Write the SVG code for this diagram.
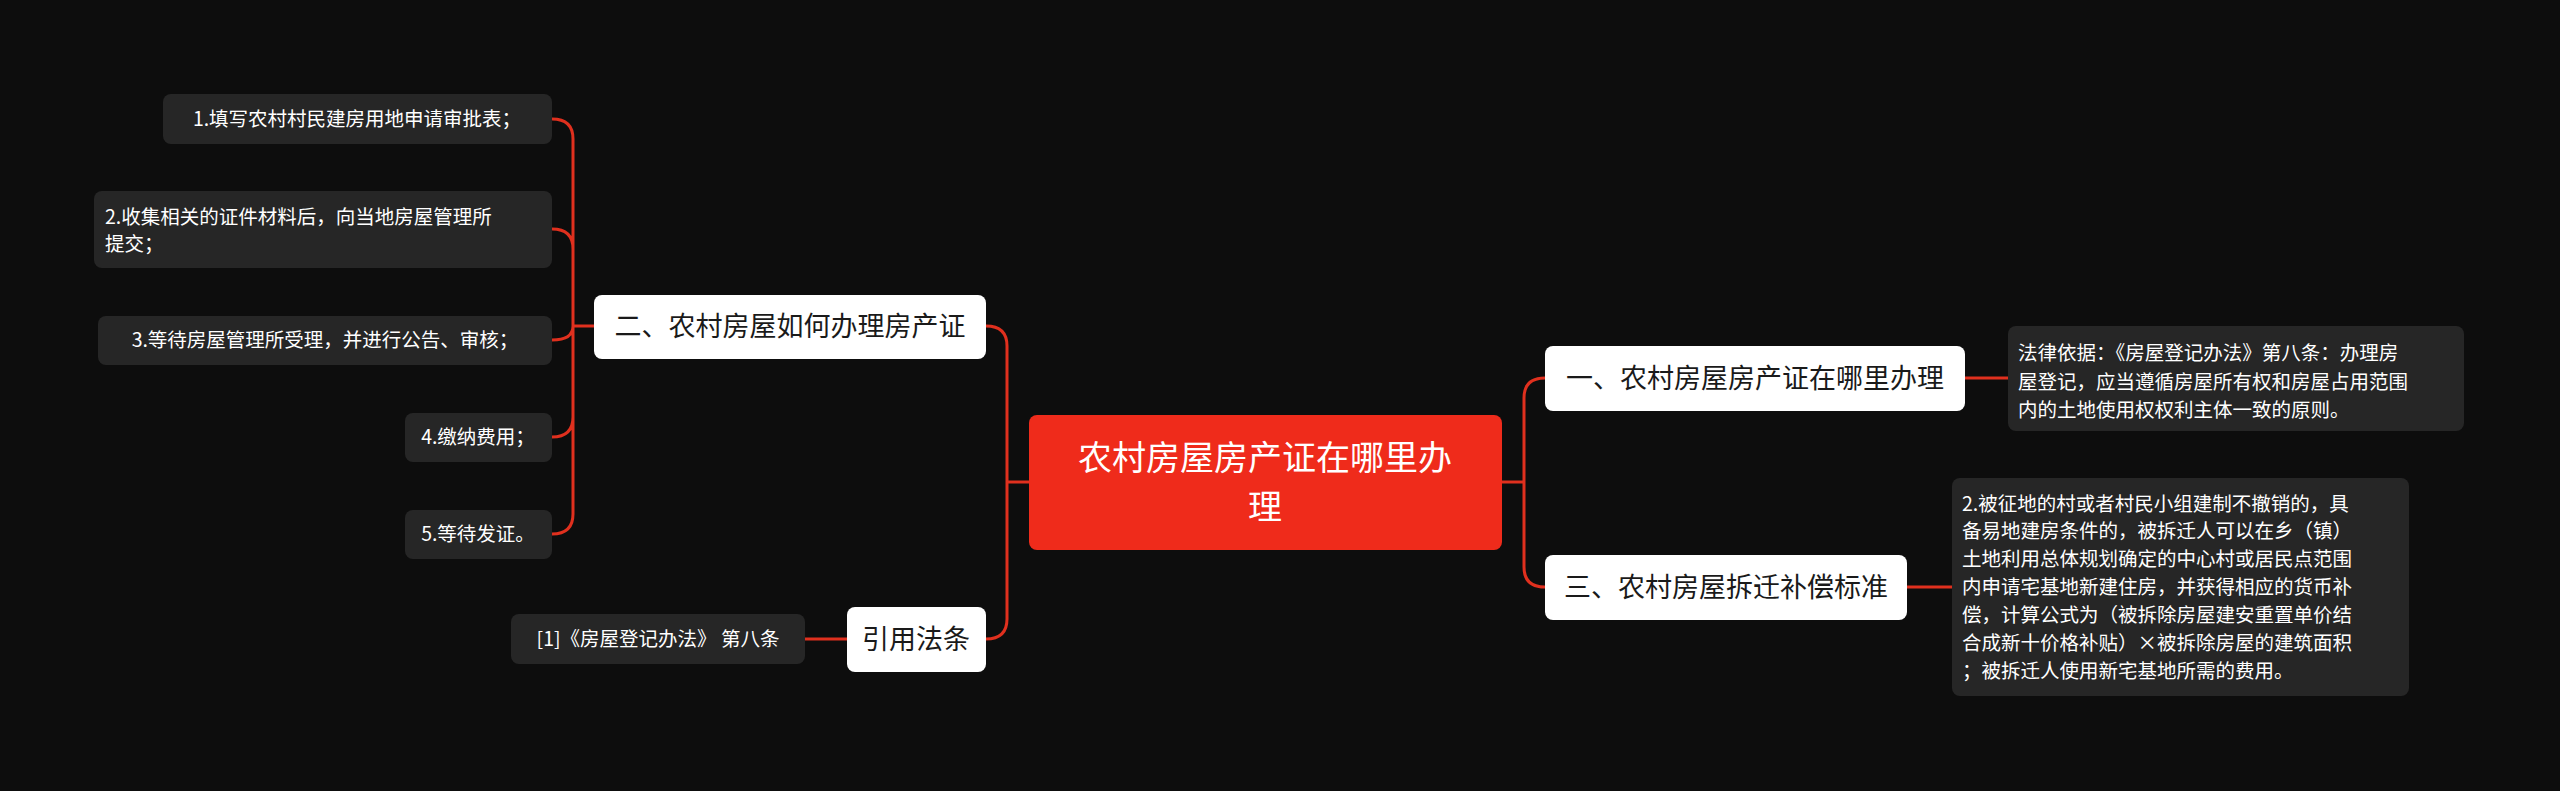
<svg xmlns="http://www.w3.org/2000/svg" width="2560" height="791" viewBox="0 0 2560 791">
<style>
text{font-family:"Noto Sans CJK SC","Noto Sans",sans-serif}
.leaf{fill:#262626}
.lt{fill:#ffffff;font-size:19.5px}
.main{fill:#ffffff}
.mt{fill:#1a1a1a;font-size:27px}
.ln{fill:none;stroke:#e0301e;stroke-width:3}
</style>
<rect width="2560" height="791" fill="#0d0d0d"/>
<g id="connectors">
<path class="ln" d="M1029 482 H1007 M986 326 Q1007 326 1007 346 V619 Q1007 639 986 639 M1007 482 H1007"/>
<path class="ln" d="M1502 482 H1524 M1545 378 Q1524 378 1524 398 V567 Q1524 587 1545 587"/>
<path class="ln" d="M1965 378 H2008 M1907 587 H1952"/>
<path class="ln" d="M847 639 H805"/>
<path class="ln" d="M594 326 H573 M552 119 Q573 119 573 139 V514 Q573 534 552 534 M552 229 Q573 229 573 249 M552 340 Q573 340 573 326 Q573 340 552 340 M552 437 Q573 437 573 417"/>
</g>
<g id="center"><rect x="1029" y="415" width="473" height="135" rx="8" fill="#ef2b1b"/>
<text x="1265" y="470" font-size="34" fill="#fff" text-anchor="middle">农村房屋房产证在哪里办</text>
<text x="1265" y="519" font-size="34" fill="#fff" text-anchor="middle">理</text></g>
<g id="n2"><rect class="main" x="594" y="295" width="392" height="64" rx="8"/><text class="mt" x="790" y="336" text-anchor="middle">二、农村房屋如何办理房产证</text></g>
<g id="ncite"><rect class="main" x="847" y="607" width="139" height="65" rx="8"/><text class="mt" x="916" y="649" text-anchor="middle">引用法条</text></g>
<g id="n1"><rect class="main" x="1545" y="346" width="420" height="65" rx="8"/><text class="mt" x="1755" y="388" text-anchor="middle">一、农村房屋房产证在哪里办理</text></g>
<g id="n3"><rect class="main" x="1545" y="555" width="362" height="65" rx="8"/><text class="mt" x="1726" y="597" text-anchor="middle">三、农村房屋拆迁补偿标准</text></g>
<g id="l1"><rect class="leaf" x="163" y="94" width="389" height="50" rx="8"/><text class="lt" x="357" y="126" text-anchor="middle">1.填写农村村民建房用地申请审批表；</text></g>
<g id="l2"><rect class="leaf" x="94" y="191" width="458" height="77" rx="8"/><text class="lt" x="105" y="224">2.收集相关的证件材料后，向当地房屋管理所</text><text class="lt" x="105" y="251">提交；</text></g>
<g id="l3"><rect class="leaf" x="98" y="316" width="454" height="49" rx="8"/><text class="lt" x="325" y="347" text-anchor="middle">3.等待房屋管理所受理，并进行公告、审核；</text></g>
<g id="l4"><rect class="leaf" x="405" y="413" width="147" height="49" rx="8"/><text class="lt" x="478" y="444" text-anchor="middle">4.缴纳费用；</text></g>
<g id="l5"><rect class="leaf" x="405" y="510" width="147" height="49" rx="8"/><text class="lt" x="478" y="541" text-anchor="middle">5.等待发证。</text></g>
<g id="lcite"><rect class="leaf" x="511" y="614" width="294" height="50" rx="8"/><text class="lt" x="658" y="646" text-anchor="middle">[1]《房屋登记办法》 第八条</text></g>
<g id="lr1"><rect class="leaf" x="2008" y="326" width="456" height="105" rx="8"/>
<text class="lt" x="2018" y="360">法律依据：《房屋登记办法》第八条：办理房</text>
<text class="lt" x="2018" y="389">屋登记，应当遵循房屋所有权和房屋占用范围</text>
<text class="lt" x="2018" y="417">内的土地使用权权利主体一致的原则。</text></g>
<g id="lr3"><rect class="leaf" x="1952" y="478" width="457" height="218" rx="8"/>
<text class="lt" x="1962" y="511">2.被征地的村或者村民小组建制不撤销的，具</text>
<text class="lt" x="1962" y="538">备易地建房条件的，被拆迁人可以在乡（镇）</text>
<text class="lt" x="1962" y="566">土地利用总体规划确定的中心村或居民点范围</text>
<text class="lt" x="1962" y="594">内申请宅基地新建住房，并获得相应的货币补</text>
<text class="lt" x="1962" y="622">偿，计算公式为（被拆除房屋建安重置单价结</text>
<text class="lt" x="1962" y="650">合成新十价格补贴）×被拆除房屋的建筑面积</text>
<text class="lt" x="1962" y="678">；被拆迁人使用新宅基地所需的费用。</text></g>
</svg>
